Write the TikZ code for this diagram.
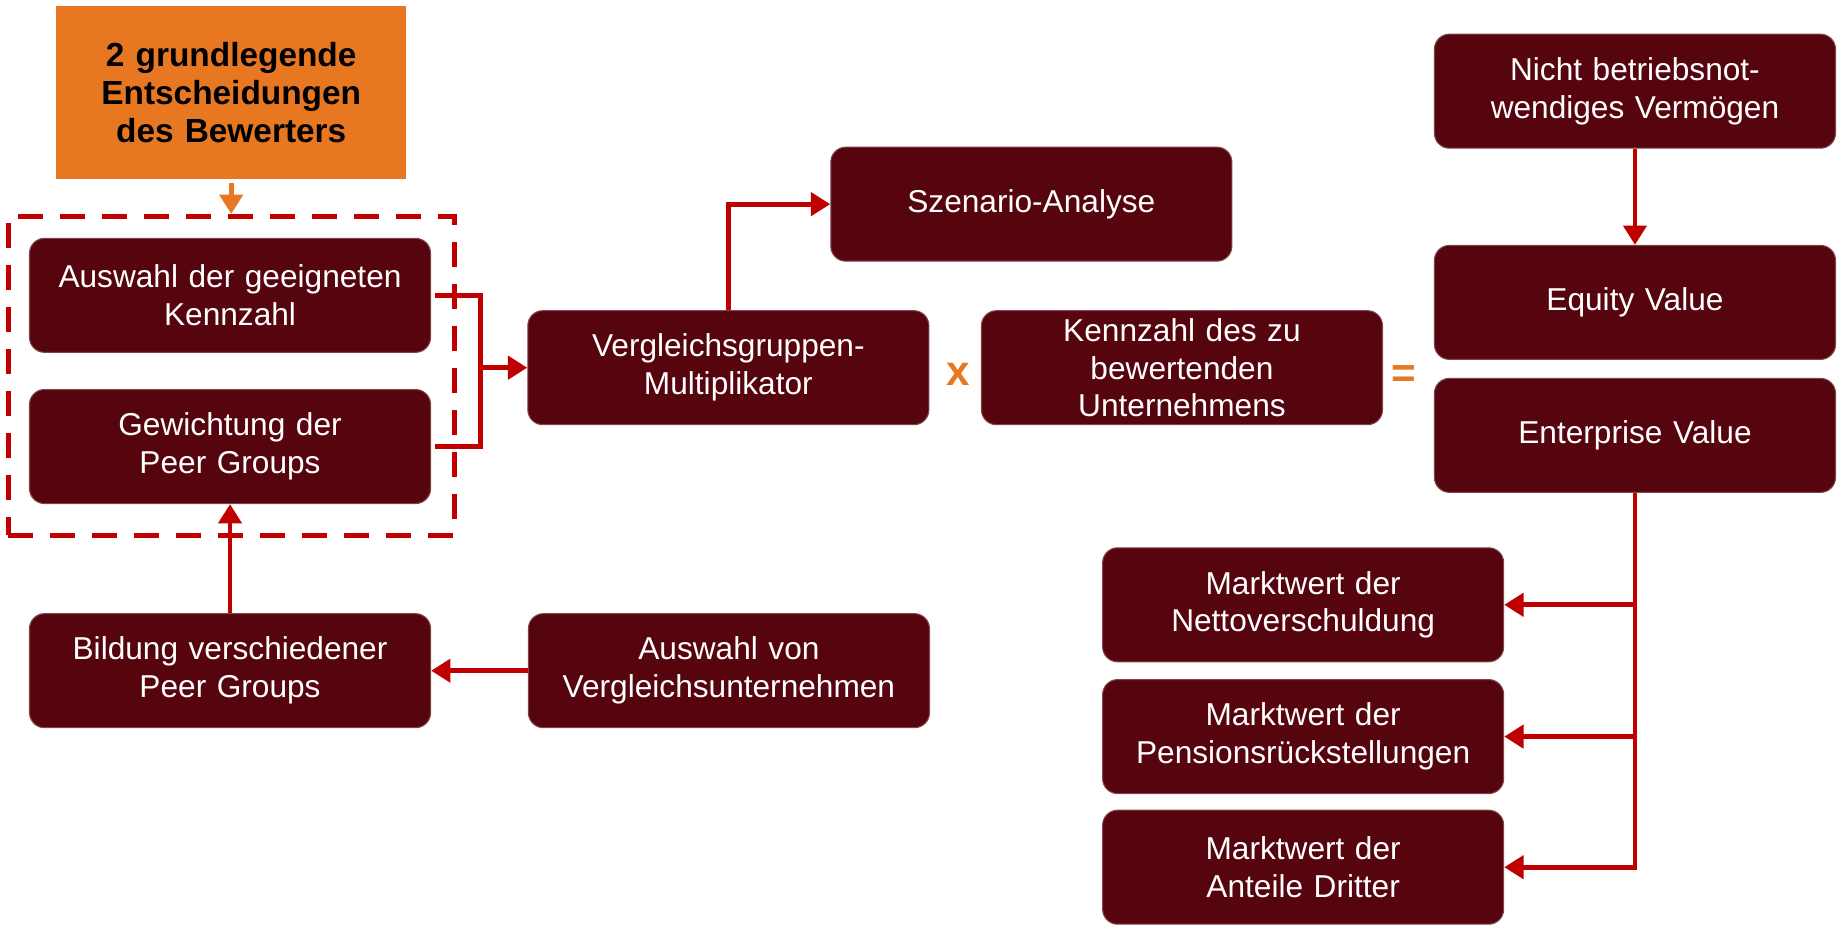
\documentclass[tikz,border=0pt]{standalone}
\usepackage{fontspec}
\setmainfont{Liberation Sans}
\usepackage{xcolor}
\usepackage{tikz}
\usetikzlibrary{arrows.meta}
\definecolor{boxmaroon}{RGB}{86, 5, 14}
\definecolor{linered}{RGB}{192, 0, 0}
\definecolor{accentorange}{RGB}{232, 119, 34}

\begin{document}
\begin{tikzpicture}[x=0.011767cm, y=-0.011767cm,
		box/.style={rectangle, fill=boxmaroon, draw=boxmaroon!75!white, line width=0.3pt, rounded corners=0.15cm, minimum width=4.01cm, minimum height=1.14cm, text width=3.9cm, inner sep=0pt, align=center, text=white, font=\fontsize{9}{10.8}\selectfont},
		link/.style={draw=linered, line width=1.4pt},
		arrow/.style={link, -{Triangle[length=5.5pt, width=6.5pt]}},
		sign/.style={text=accentorange, font=\bfseries\fontsize{12}{12}\selectfont}]
	\useasboundingbox (0,0) rectangle (1568,790);

	% left column
	\node[rectangle, fill=accentorange, minimum width=3.5cm, minimum height=1.73cm, text width=3.4cm, inner sep=0pt, align=center, font=\bfseries\fontsize{9.5}{10.8}\selectfont] (bew) at (196.5,78.5) {2 grundlegende\\Entscheidungen\\des Bewerters};
	\node[rectangle, draw=linered, line width=1.4pt, dash pattern=on 0.25cm off 0.17cm, minimum width=4.46cm, minimum height=3.19cm] (grp) at (196.5,319.5) {};
	\node[box] (wahl) at (195.5,251) {Auswahl der geeigneten\\Kennzahl};
	\node[box] (gew) at (195.5,379.5) {Gewichtung der\\Peer Groups};
	\node[box] (bild) at (195.5,570) {Bildung verschiedener\\Peer Groups};

	% middle
	\node[box] (vgl) at (619,312.5) {Vergleichsgruppen-\\Multiplikator};
	\node[box] (avu) at (619.5,570) {Auswahl von\\Vergleichsunternehmen};
	\node[box] (szen) at (876.5,173.5) {Szenario-Analyse};
	\node[sign] (mal) at (814,318) {x};
	\node[box] (kz) at (1004.5,312.5) {Kennzahl des zu\\bewertenden\\Unternehmens};
	\node[sign] (gleich) at (1193,320) {=};

	% right column
	\node[box] (nbv) at (1389.5,77.5) {Nicht betriebsnot-\\wendiges Vermögen};
	\node[box] (eqv) at (1389.5,257) {Equity Value};
	\node[box] (ev) at (1389.5,370) {Enterprise Value};
	\node[box] (nv) at (1107.5,514) {Marktwert der\\Nettoverschuldung};
	\node[box] (pr) at (1107.5,626) {Marktwert der\\Pensionsrückstellungen};
	\node[box] (ad) at (1107.5,737) {Marktwert der\\Anteile Dritter};

	% connectors
	\draw[draw=accentorange, line width=1.4pt, -{Triangle[length=5.5pt, width=6.5pt]}, shorten <=1pt] (bew) -- (grp.north);
	\coordinate (merge) at (408,312.5);
	\draw[link] ([xshift=1pt]wahl.east) -| (merge) |- ([xshift=1pt]gew.east);
	\draw[arrow] (merge) -- (vgl.west);
	\draw[arrow] (vgl.north) |- (szen.west);
	\draw[arrow] (avu) -- (bild);
	\draw[arrow] (bild) -- (gew);
	\draw[arrow] (nbv) -- (eqv);
	\draw[arrow] (ev.south) |- (ad.east);
	\foreach \t in {nv, pr}
		\draw[arrow] (ev.south |- \t.east) -- (\t.east);
\end{tikzpicture}
\end{document}
